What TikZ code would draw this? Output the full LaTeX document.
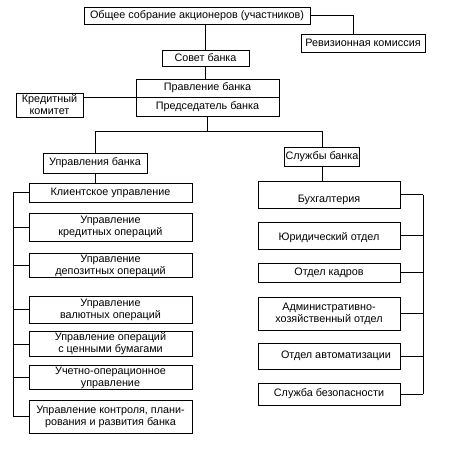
\documentclass[tikz,border=0pt]{standalone}
\usepackage{fontspec}
\setmainfont{Liberation Sans}
\begin{document}
\begin{tikzpicture}[x=1pt,y=-1pt,line width=0.8pt,
  box/.style={draw,rectangle,inner sep=1pt,align=center,font=\fontsize{10.8}{12}\selectfont},
  lbox/.style={box,minimum width=163pt},
  rbox/.style={box,minimum width=142pt}]
\useasboundingbox (0,0) rectangle (474,451);
% top part
\node[box,minimum width=226pt,minimum height=17pt] (top) at (197,15.5) {Общее собрание акционеров (участников)};
\node[box,minimum width=124pt,minimum height=18pt] (rev) at (363,43) {Ревизионная комиссия};
\node[box,minimum width=87pt,minimum height=16pt] (sovet) at (205.5,58) {Совет банка};
\node[box,minimum width=143pt,minimum height=18pt] (pr1) at (207.5,88) {Правление банка};
\node[box,minimum width=143pt,minimum height=19pt] (pr2) at (207.5,106.5) {Председатель банка};
\node[box,minimum width=67pt,minimum height=24pt] (kred) at (49.5,105) {Кредитный\\комитет};
% second level
\node[box,minimum width=104pt,minimum height=20pt] (ub) at (95,163) {Управления банка};
\node[box,minimum width=74pt,minimum height=19pt] (sb) at (322,156.5) {Службы банка};
% left column
\node[lbox,minimum height=19pt] (kl) at (110.5,192.5) {Клиентское управление};
\node[lbox,minimum height=28pt] (kr) at (110.5,227) {Управление\\кредитных операций};
\node[lbox,minimum height=23pt] (dep) at (110.5,265.5) {Управление\\депозитных операций};
\node[lbox,minimum height=27pt] (val) at (110.5,309.5) {Управление\\валютных операций};
\node[lbox,minimum height=22pt] (cb) at (110.5,344) {Управление операций\\с ценными бумагами};
\node[lbox,minimum height=23pt] (uch) at (110.5,377.5) {Учетно-операционное\\управление};
\node[lbox,minimum height=33pt] (ctrl) at (110.5,416.5) {Управление контроля, плани-\\рования и развития банка};
% right column
\node[rbox,minimum height=27pt] (buh) at (329,194.5) {\raisebox{-5pt}[\height][\depth]{Бухгалтерия}};
\node[rbox,minimum height=27pt] (yur) at (329,235.5) {\raisebox{-2pt}[\height][\depth]{Юридический отдел}};
\node[rbox,minimum height=19pt] (kadr) at (329,272.5) {Отдел кадров};
\node[rbox,minimum height=33pt] (adm) at (329,313.5) {Административно-\\хозяйственный отдел};
\node[rbox,minimum height=26pt] (avt) at (329,356) {\hspace*{14pt}Отдел автоматизации};
\node[rbox,minimum height=22pt] (sec) at (329,394) {Служба безопасности};
% coordinates
\coordinate (split) at (207.5,131.5);
\coordinate (lb) at (13,0);
\coordinate (rb) at (423,0);
% connectors
\draw (top.east) -| ([xshift=-10pt]rev.north);
\draw (sovet.north) -- (sovet.north |- top.south);
\draw (sovet.south) -- (sovet.south |- pr1.north);
\draw (kred.east |- pr1.south) -- (pr1.south west);
\draw (pr2.south) -- (split);
\draw (ub.north) |- (split) -| (sb.north);
\draw (ub.south) -- (ub.south |- kl.north);
\draw (sb.south) -- (sb.south |- buh.north);
\foreach \n in {kl,kr,dep,val,cb,uch,ctrl} \draw (\n.west) -- (\n.west -| lb);
\draw (kl.west -| lb) -- (ctrl.west -| lb);
\foreach \n in {buh,yur,kadr,adm,avt,sec} \draw (\n.east) -- (\n.east -| rb);
\draw (buh.east -| rb) -- (sec.east -| rb);
\end{tikzpicture}
\end{document}
